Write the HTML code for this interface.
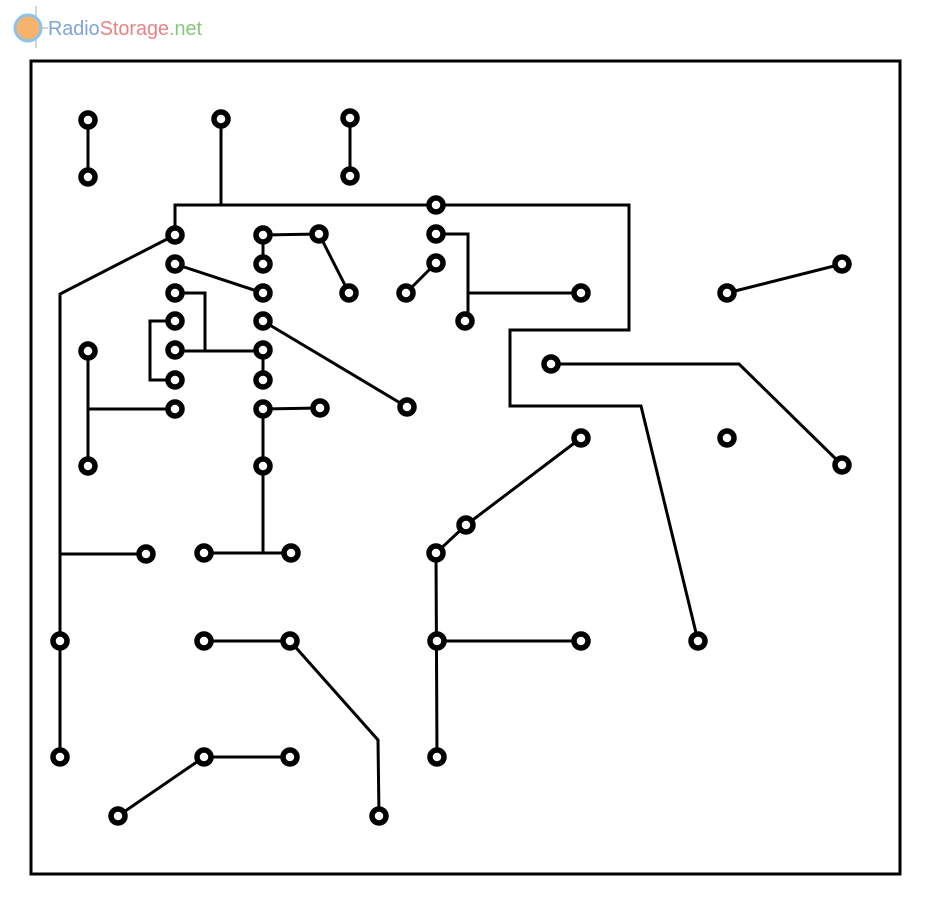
<!DOCTYPE html>
<html><head><meta charset="utf-8"><style>html,body{margin:0;padding:0;background:#fff;width:931px;height:901px;overflow:hidden}</style></head>
<body>
<svg width="931" height="901" viewBox="0 0 931 901" xmlns="http://www.w3.org/2000/svg">
<rect x="0" y="0" width="931" height="901" fill="#fff"/>
<g>
<line x1="14" y1="28" x2="48" y2="28" stroke="#aaa" stroke-width="1"/>
<line x1="36" y1="6" x2="36" y2="48" stroke="#aaa" stroke-width="1"/>
<circle cx="28" cy="28" r="13" fill="#f6b36b" stroke="#8cc3ea" stroke-width="3"/>
<text x="48" y="35" font-family="Liberation Sans, sans-serif" font-size="20" textLength="154" lengthAdjust="spacingAndGlyphs"><tspan fill="#7da4d6">Radio</tspan><tspan fill="#e98383">Storage</tspan><tspan fill="#86c77a">.net</tspan></text>
</g>
<rect x="31" y="61" width="869" height="813" fill="none" stroke="#000" stroke-width="3"/>
<g stroke="#000" stroke-width="3" fill="none" stroke-linejoin="miter">
<line x1="88" y1="120" x2="88" y2="177"/>
<line x1="221" y1="119" x2="221" y2="205"/>
<line x1="350" y1="118" x2="350" y2="176"/>
<polyline points="175,235 175,205 629,205 629,330 510,330 510,406 641,406 698,641"/>
<polyline points="175,235 60,294 60,757"/>
<line x1="60" y1="554" x2="146" y2="554"/>
<polyline points="263,235 319,234 349,293"/>
<line x1="263" y1="235" x2="263" y2="264"/>
<line x1="175" y1="264" x2="263" y2="293"/>
<line x1="436" y1="263" x2="406" y2="293"/>
<polyline points="436,234 468,234 468,321"/>
<line x1="468" y1="293" x2="581" y2="293"/>
<line x1="727" y1="293" x2="842" y2="264"/>
<polyline points="175,293 205,293 205,351"/>
<line x1="175" y1="351" x2="263" y2="351"/>
<polyline points="175,321 150,321 150,380 175,380"/>
<line x1="263" y1="350" x2="263" y2="380"/>
<line x1="263" y1="321" x2="407" y2="407"/>
<line x1="88" y1="351" x2="88" y2="466"/>
<line x1="88" y1="409" x2="175" y2="409"/>
<line x1="263" y1="409" x2="320" y2="408"/>
<line x1="263" y1="409" x2="263" y2="553"/>
<line x1="204" y1="553" x2="291" y2="553"/>
<polyline points="551,364 739,364 842,465"/>
<polyline points="581,438 466,525 436,553 437,757"/>
<line x1="437" y1="641" x2="581" y2="641"/>
<polyline points="204,641 290,641 378,740 379,816"/>
<polyline points="118,816 204,757 290,757"/>
</g>
<g stroke="#000" stroke-width="5.5" fill="#fff">
<circle cx="88" cy="120" r="7"/><circle cx="88" cy="177" r="7"/><circle cx="221" cy="119" r="7"/><circle cx="350" cy="118" r="7"/><circle cx="350" cy="176" r="7"/>
<circle cx="436" cy="205" r="7"/>
<circle cx="175" cy="235" r="7"/><circle cx="263" cy="235" r="7"/><circle cx="319" cy="234" r="7"/><circle cx="436" cy="234" r="7"/>
<circle cx="175" cy="264" r="7"/><circle cx="263" cy="264" r="7"/><circle cx="436" cy="263" r="7"/>
<circle cx="175" cy="293" r="7"/><circle cx="263" cy="293" r="7"/><circle cx="349" cy="293" r="7"/><circle cx="406" cy="293" r="7"/><circle cx="581" cy="293" r="7"/><circle cx="727" cy="293" r="7"/><circle cx="842" cy="264" r="7"/>
<circle cx="175" cy="321" r="7"/><circle cx="263" cy="321" r="7"/><circle cx="465" cy="321" r="7"/>
<circle cx="88" cy="351" r="7"/><circle cx="175" cy="350" r="7"/><circle cx="263" cy="350" r="7"/><circle cx="551" cy="364" r="7"/>
<circle cx="175" cy="380" r="7"/><circle cx="263" cy="380" r="7"/>
<circle cx="175" cy="409" r="7"/><circle cx="263" cy="409" r="7"/><circle cx="320" cy="408" r="7"/><circle cx="407" cy="407" r="7"/>
<circle cx="581" cy="438" r="7"/><circle cx="727" cy="438" r="7"/><circle cx="842" cy="465" r="7"/>
<circle cx="88" cy="466" r="7"/><circle cx="263" cy="466" r="7"/>
<circle cx="466" cy="525" r="7"/>
<circle cx="146" cy="554" r="7"/><circle cx="204" cy="553" r="7"/><circle cx="291" cy="553" r="7"/><circle cx="436" cy="553" r="7"/>
<circle cx="60" cy="641" r="7"/><circle cx="204" cy="641" r="7"/><circle cx="290" cy="641" r="7"/><circle cx="437" cy="641" r="7"/><circle cx="581" cy="641" r="7"/><circle cx="698" cy="641" r="7"/>
<circle cx="60" cy="757" r="7"/><circle cx="204" cy="757" r="7"/><circle cx="290" cy="757" r="7"/><circle cx="437" cy="757" r="7"/>
<circle cx="118" cy="816" r="7"/><circle cx="379" cy="816" r="7"/>
</g>
</svg>
</body></html>
